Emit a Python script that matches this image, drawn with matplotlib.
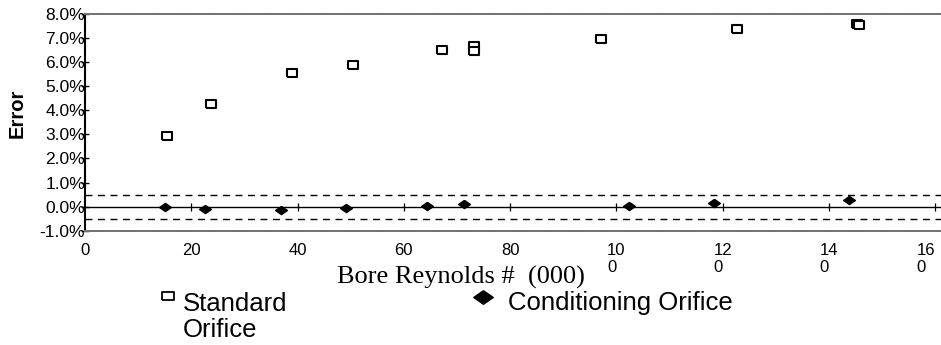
import numpy as np
import matplotlib
matplotlib.use("Agg")
import matplotlib.pyplot as plt
from matplotlib.lines import Line2D

# values (Reynolds number in thousands, error in %)
std_re = [15.5, 23.7, 39.0, 50.5, 67.2, 73.3, 73.3, 97.1, 122.7, 145.2, 145.6]
std_err = [2.94, 4.26, 5.55, 5.88, 6.50, 6.66, 6.45, 6.96, 7.38, 7.60, 7.56]

cond_re = [15.1, 22.6, 36.8, 49.1, 64.3, 71.4, 102.3, 118.4, 143.7]
cond_err = [-0.03, -0.11, -0.14, -0.07, 0.02, 0.10, 0.02, 0.14, 0.27]

band = 0.5
yticks = np.arange(-1, 9, 1)
xticks = np.arange(0, 161, 20)
xtick_labels = ["0", "20", "40", "60", "80", "10\n0", "12\n0", "14\n0", "16\n0"]

sans = ["Liberation Sans", "DejaVu Sans"]
serif = ["Liberation Serif", "DejaVu Serif"]

# wide open box and flat diamond markers like the original
box = [(-1, -0.68), (1, -0.68), (1, 0.68), (-1, 0.68), (-1, -0.68)]
diamond = [(0, 0.7), (1, 0), (0, -0.7), (-1, 0), (0, 0.7)]
std_style = dict(marker=box, markersize=7.5, markerfacecolor="white",
                 markeredgecolor="black", markeredgewidth=1.5, linestyle="none")
cond_style = dict(marker=diamond, markersize=8.5, color="black", linestyle="none")

fig = plt.figure(figsize=(9.41, 3.45), dpi=100)
ax = fig.add_axes([0.0903, 0.3313, 0.9097, 0.6281])

# reference lines
ax.axhline(0, color="black", lw=1.0, zorder=1)
ax.plot(xticks[1:], np.zeros(len(xticks) - 1), marker="|", markersize=6,
        color="black", linestyle="none", markeredgewidth=0.9, zorder=1)
ax.axhline(band, color="black", lw=1.0, ls=(0, (5, 4)), zorder=1)
ax.axhline(-band, color="black", lw=1.0, ls=(0, (5, 4)), zorder=1)

ax.plot(std_re, std_err, zorder=3, **std_style)
ax.plot(cond_re, cond_err, zorder=3, **cond_style)

ax.set_xlim(0, 161.1)
ax.set_ylim(-1, 8)

ax.set_yticks(yticks)
ax.set_yticklabels([f"{v:.1f}%" for v in yticks], fontfamily=sans, fontsize=12.5)
ax.set_xticks(xticks)
ax.set_xticklabels(xtick_labels, fontfamily=sans, fontsize=12,
                   multialignment="left", linespacing=1.15)
# the last label sits on the right edge, keep it inside
ax.get_xticklabels()[-1].set_horizontalalignment("right")
ax.tick_params(axis="y", direction="inout", length=6, width=1, pad=-3)
ax.tick_params(axis="x", length=0, pad=9)

ax.spines["left"].set_linewidth(1.5)
ax.spines["right"].set_visible(False)
for side in ["top", "bottom"]:
    ax.spines[side].set_color("0.45")
    ax.spines[side].set_linewidth(1.4)
    ax.spines[side].set_linestyle((0, (1, 0.6)))

fig.text(17 / 941, 1 - 113 / 345, "Error", rotation=90, fontfamily=sans,
         fontsize=14.5, fontweight="bold", ha="center", va="center")
fig.text(461 / 941, 1 - 277 / 345, "Bore Reynolds #  (000)", fontfamily=serif,
         fontsize=19, ha="center", va="center")

# legend keys and labels
fig.add_artist(Line2D([168 / 941], [1 - 296 / 345], transform=fig.transFigure,
                      **dict(std_style, markersize=9, markeredgewidth=1.3)))
fig.text(183 / 941, 1 - 292 / 345, "Standard\nOrifice", fontfamily=sans,
         fontsize=18.5, ha="left", va="top", linespacing=1.12)
fig.add_artist(Line2D([483 / 941], [1 - 297 / 345], transform=fig.transFigure,
                      **dict(cond_style, markersize=14)))
fig.text(508 / 941, 1 - 303 / 345, "Conditioning Orifice", fontfamily=sans,
         fontsize=18.5, ha="left", va="center")

fig.savefig("out.png", dpi=100)
